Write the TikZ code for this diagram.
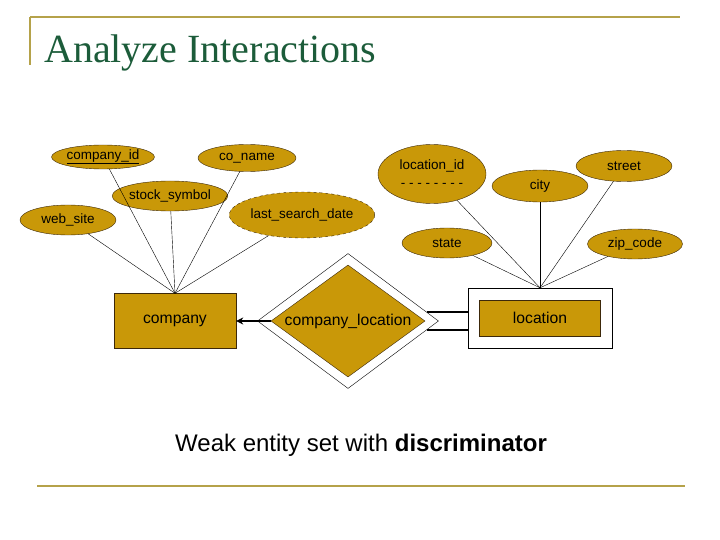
\documentclass[tikz,border=0pt]{standalone}
\usepackage{fontspec}
\setmainfont{Liberation Sans}
\newfontfamily\titlefont{Liberation Serif}
\usepackage{tikz}
\usetikzlibrary{arrows.meta,shapes.geometric,positioning}
\definecolor{gold}{RGB}{201,152,8}
\definecolor{edgebrown}{RGB}{60,40,10}
\definecolor{rulecol}{RGB}{181,162,74}
\definecolor{titlegreen}{RGB}{28,92,58}

\begin{document}
\begin{tikzpicture}[x=1pt,y=-1pt,thin]
    \tikzstyle{attr}=[ellipse, draw=edgebrown, fill=gold, inner sep=0pt, font=\fontsize{13.5}{15}\selectfont]
    \tikzstyle{entity}=[rectangle, draw=edgebrown, fill=gold, inner sep=0pt, font=\fontsize{15.7}{17}\selectfont]
    \tikzstyle{rel}=[diamond, draw=edgebrown, fill=gold, inner sep=0pt, aspect=1.4, font=\fontsize{15.7}{17}\selectfont]
    \tikzstyle{rulestyle}=[draw=rulecol, line width=1.6pt]

    \useasboundingbox (0,0) rectangle (720,540);

    % slide frame
    \draw[rulestyle] (30,17) -- (680,17);
    \draw[rulestyle, line width=1.2pt] (30,17) -- (30,65);
    \draw[rulestyle] (37,486) -- (685,486);
    \node[anchor=base west, text=titlegreen, inner sep=0pt] (title) at (44,63)
        {\titlefont\fontsize{40}{41}\selectfont Analyze Interactions};

    % company and its attributes
    \node[entity, minimum width=122pt, minimum height=55pt] (company) at (175,321) {company};
    \node[attr, minimum width=98pt, minimum height=24pt]  (cid)    at (103,157) {\underline{company\_id}};
    \node[attr, minimum width=98pt, minimum height=27pt]  (coname) at (247,158) {co\_name};
    \node[attr, minimum width=89pt, minimum height=30pt]  (stock)  at (170,196) {stock\_symbol};
    \node[attr, minimum width=96pt, minimum height=30pt]  (web)    at (68,220)  {web\_site};
    \node[attr, dashed, minimum width=125pt, minimum height=46pt] (lsd) at (302,215) {last\_search\_date};

    % relationship
    \node[diamond, draw=black, fill=white, minimum width=181pt, minimum height=135pt] (clouter) at (348,321) {};
    \node[rel, minimum width=154pt, minimum height=112pt] (cloc) at (348,321) {company\_location};

    % weak entity and its attributes
    \node[rectangle, draw=black, fill=white, minimum width=144pt, minimum height=60pt] (locouter) at (540,318) {};
    \node[entity, minimum width=121pt, minimum height=36pt] (loc) at (540,318) {location};
    \node[attr, minimum width=108pt, minimum height=59pt, align=center] (lid) at (432,174)
        {location\_id\\[3pt]- - - - - - - -};
    \node[attr, minimum width=96pt, minimum height=32pt] (city)   at (540,186) {city};
    \node[attr, minimum width=96pt, minimum height=31pt] (street) at (624,166) {street};
    \node[attr, minimum width=90pt, minimum height=30pt] (state)  at (447,243) {state};
    \node[attr, minimum width=95pt, minimum height=30pt] (zip)    at (635,244) {zip\_code};

    % attribute lines
    \foreach \a in {cid,coname,stock,web,lsd}
        \draw (company.north) -- (\a);
    \foreach \a in {lid,city,street,state,zip}
        \draw (locouter.north) -- (\a);

    % participation
    \draw[line width=1.6pt, -{Stealth[length=7pt,width=7pt]}] (cloc.west) -- (company.east);
    \draw[line width=1.6pt] ([xshift=-12pt,yshift=9pt]clouter.east) -- ([yshift=6pt]locouter.west);
    \draw[line width=1.6pt] ([xshift=-12pt,yshift=-9pt]clouter.east) -- ([yshift=-12pt]locouter.west);

    \node[font=\fontsize{24}{26}\selectfont, anchor=base west, inner sep=0pt] (caption) at (175,451)
        {Weak entity set with \textbf{discriminator}};
\end{tikzpicture}
\end{document}
